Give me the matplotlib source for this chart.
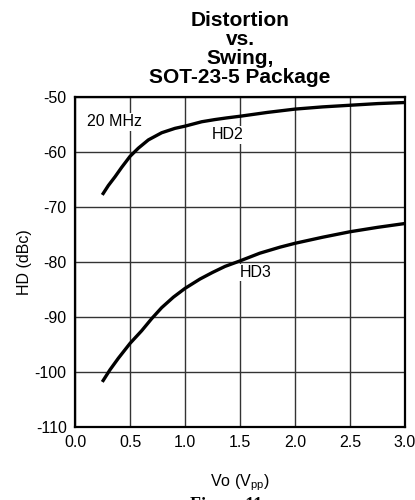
import numpy as np
import matplotlib
matplotlib.use("Agg")
import matplotlib.pyplot as plt

# swing (Vpp) and harmonic distortion (dBc) at 20 MHz
vo_hd2 = [0.248, 0.303, 0.364, 0.424, 0.5, 0.576, 0.667, 0.788, 0.909, 1.0,
          1.152, 1.273, 1.38, 1.5, 1.75, 2.0, 2.25, 2.5, 2.75, 3.0]
hd2 = [-67.8, -66.1, -64.5, -62.8, -60.8, -59.3, -57.8, -56.5, -55.7, -55.3,
       -54.5, -54.1, -53.8, -53.5, -52.8, -52.2, -51.8, -51.5, -51.2, -51.0]

vo_hd3 = [0.248, 0.318, 0.394, 0.5, 0.606, 0.697, 0.788, 0.894, 1.0, 1.136,
          1.25, 1.364, 1.5, 1.68, 1.864, 2.0, 2.25, 2.5, 2.75, 3.0]
hd3 = [-101.8, -99.6, -97.5, -94.8, -92.5, -90.3, -88.3, -86.4, -84.8, -83.1,
       -81.9, -80.8, -79.8, -78.4, -77.3, -76.6, -75.5, -74.5, -73.7, -73.0]

xticks = [0.0, 0.5, 1.0, 1.5, 2.0, 2.5, 3.0]
yticks = [-110, -100, -90, -80, -70, -60, -50]

plt.rcParams['font.family'] = ['Liberation Sans', 'DejaVu Sans']

fig = plt.figure(figsize=(4.15, 5.0), dpi=100)
ax = fig.add_axes([75 / 415, 1 - 427 / 500, 330 / 415, 330 / 500])

for x, y in ((vo_hd2, hd2), (vo_hd3, hd3)):
    ax.plot(x, y, color='black', linewidth=2.4,
            solid_capstyle='butt', solid_joinstyle='round')

ax.set_xlim(0, 3.0)
ax.set_ylim(-110, -50)
ax.set_xticks(xticks)
ax.set_yticks(yticks)
ax.set_xticklabels([f"{t:.1f}" for t in xticks])
ax.set_yticklabels([str(t) for t in yticks])
ax.tick_params(length=0, labelsize=11.5, pad=6)
ax.grid(True, color='#333333', linewidth=1.0)
ax.set_axisbelow(True)
for s in ax.spines.values():
    s.set_linewidth(1.6)

box = dict(facecolor='white', edgecolor='none', pad=1)
ax.text(0.11, -54.5, "20 MHz", fontsize=11.5, va='center', ha='left', bbox=box)
ax.text(1.24, -56.9, "HD2", fontsize=11.5, va='center', ha='left', bbox=box)
ax.text(1.5, -81.9, "HD3", fontsize=11.5, va='center', ha='left', bbox=box)

ax.set_xlabel(r"Vo (V$_\mathregular{pp}$)", fontsize=11.5, labelpad=16)
ax.set_ylabel("HD (dBc)", fontsize=11.5, labelpad=2)

fig.text(240 / 415, 1 - 87 / 500, "Distortion\nvs.\nSwing,\nSOT-23-5 Package",
         ha='center', va='bottom', fontsize=15, fontweight='bold', linespacing=1.0)

fig.text(190 / 415, 1 - 497 / 500, "Figure 11", ha='left', va='top',
         fontsize=13, fontweight='bold', family='Liberation Serif')

fig.savefig("out.png", dpi=100)
